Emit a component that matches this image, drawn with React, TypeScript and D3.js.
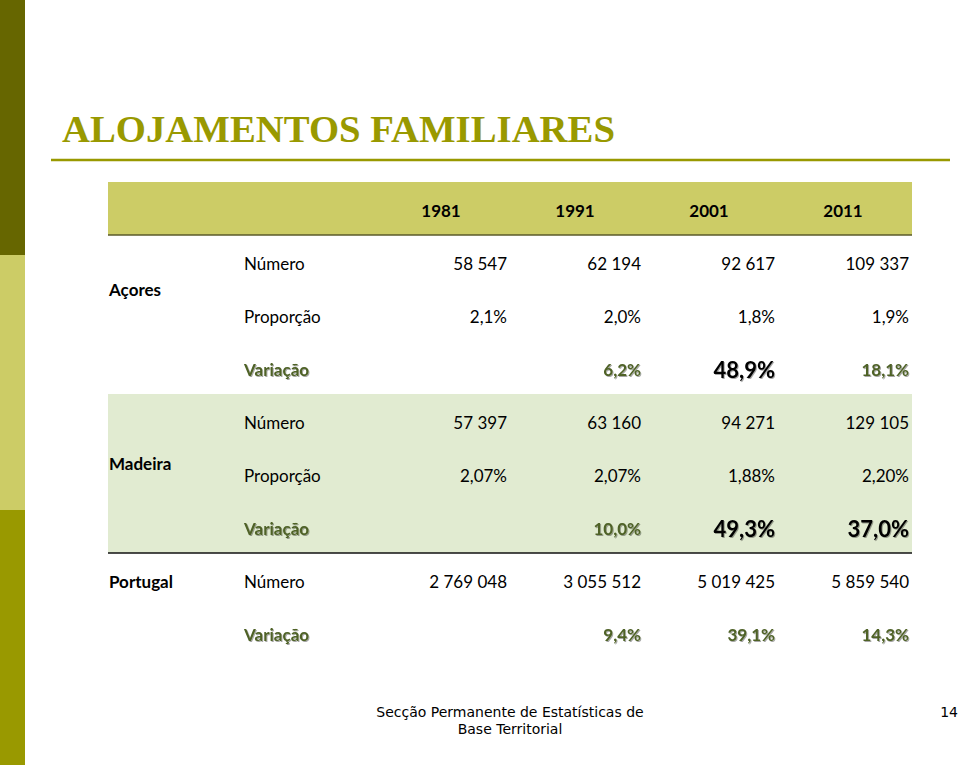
import { useEffect, useRef } from "react";
import * as d3 from "d3";

const years = ["1981", "1991", "2001", "2011"];

const acoresNumero = ["58 547", "62 194", "92 617", "109 337"];
const acoresProporcao = ["2,1%", "2,0%", "1,8%", "1,9%"];
const acoresVariacao = ["", "6,2%", "48,9%", "18,1%"];

const madeiraNumero = ["57 397", "63 160", "94 271", "129 105"];
const madeiraProporcao = ["2,07%", "2,07%", "1,88%", "2,20%"];
const madeiraVariacao = ["", "10,0%", "49,3%", "37,0%"];

const portugalNumero = ["2 769 048", "3 055 512", "5 019 425", "5 859 540"];
const portugalVariacao = ["", "9,4%", "39,1%", "14,3%"];

// values that the slide shows larger and in black
const highlighted = ["48,9%", "49,3%", "37,0%"];

const rows = [
  { region: "Açores", label: "Número", values: acoresNumero, kind: "plain" },
  { region: "Açores", label: "Proporção", values: acoresProporcao, kind: "plain" },
  { region: "Açores", label: "Variação", values: acoresVariacao, kind: "var" },
  { region: "Madeira", label: "Número", values: madeiraNumero, kind: "plain" },
  { region: "Madeira", label: "Proporção", values: madeiraProporcao, kind: "plain" },
  { region: "Madeira", label: "Variação", values: madeiraVariacao, kind: "var" },
  { region: "Portugal", label: "Número", values: portugalNumero, kind: "plain" },
  { region: "Portugal", label: "Variação", values: portugalVariacao, kind: "var" },
];

function App() {
  const svgRef = useRef<SVGSVGElement>(null);

  useEffect(() => {
    const width = 960;
    const height = 765;
    const font = "Lato, 'Open Sans', sans-serif";

    const svg = d3.select(svgRef.current);
    svg.selectAll("*").remove();
    svg.attr("width", width).attr("height", height).attr("viewBox", `0 0 ${width} ${height}`);

    // shadow for the "Variação" texts
    const defs = svg.append("defs");
    const f = defs.append("filter").attr("id", "shadow").attr("x", "-10%").attr("y", "-20%").attr("width", "130%").attr("height", "150%");
    f.append("feDropShadow").attr("dx", 1).attr("dy", 1).attr("stdDeviation", 0.6).attr("flood-color", "#000").attr("flood-opacity", 0.35);

    svg.append("rect").attr("width", width).attr("height", height).attr("fill", "#fff");

    // left decorative bar
    const bars = [
      { y0: 0, y1: 255, c: "#666600" },
      { y0: 255, y1: 510, c: "#cccc66" },
      { y0: 510, y1: 765, c: "#999900" },
    ];
    svg.selectAll(".side").data(bars).join("rect")
      .attr("x", 0).attr("y", (d) => d.y0).attr("width", 25).attr("height", (d) => d.y1 - d.y0)
      .attr("fill", (d) => d.c);

    // title
    svg.append("text")
      .attr("x", 62).attr("y", 142)
      .attr("font-family", "'Liberation Serif', 'DejaVu Serif', serif")
      .attr("font-size", 38)
      .attr("font-weight", 700)
      .attr("textLength", 553)
      .attr("lengthAdjust", "spacingAndGlyphs")
      .attr("fill", "#999900")
      .text("ALOJAMENTOS FAMILIARES");
    svg.append("line").attr("x1", 51).attr("x2", 950).attr("y1", 160).attr("y2", 160)
      .attr("stroke", "#999900").attr("stroke-width", 2.5);

    const left = 108;
    const right = 912;

    const x = d3.scaleBand().domain(years).range([374, 910]);
    const y = d3.scalePoint<number>().domain(d3.range(rows.length)).range([263, 263 + 53 * (rows.length - 1)]);

    // header band
    svg.append("rect").attr("x", left).attr("y", 182).attr("width", right - left).attr("height", 53).attr("fill", "#cccc66");
    svg.append("line").attr("x1", left).attr("x2", right).attr("y1", 235).attr("y2", 235).attr("stroke", "#5a5a2a").attr("stroke-width", 1.5);
    svg.selectAll(".yr").data(years).join("text")
      .attr("x", (d) => (x(d) as number) + x.bandwidth() / 2)
      .attr("y", 210)
      .attr("text-anchor", "middle").attr("dominant-baseline", "central")
      .attr("font-family", font).attr("font-weight", 700).attr("font-size", 17).attr("fill", "#000")
      .text((d) => d);

    // Madeira band
    const madRows = rows.map((r, i) => (r.region === "Madeira" ? i : -1)).filter((i) => i >= 0);
    const bandTop = (y(madRows[0]) as number) - 28;
    const bandBot = (y(madRows[madRows.length - 1]) as number) + 25;
    svg.append("rect").attr("x", left).attr("y", bandTop).attr("width", right - left).attr("height", bandBot - bandTop).attr("fill", "#e1ebd1");
    svg.append("line").attr("x1", left).attr("x2", right).attr("y1", bandBot).attr("y2", bandBot).attr("stroke", "#111").attr("stroke-width", 1.5);

    // region labels centred on their rows
    const regions = Array.from(d3.group(rows.map((r, i) => ({ ...r, i })), (d) => d.region));
    svg.selectAll(".reg").data(regions).join("text")
      .attr("x", 109)
      .attr("y", ([name, rs]) => {
        if (name === "Portugal") return y(rs[0].i) as number;
        return d3.mean(rs.slice(0, 2), (r) => y(r.i) as number) as number + (name === "Madeira" ? 15 : 0);
      })
      .attr("dominant-baseline", "central")
      .attr("font-family", font).attr("font-weight", 700).attr("font-size", 17).attr("fill", "#000")
      .text(([name]) => name);

    const rowG = svg.selectAll(".row").data(rows).join("g")
      .attr("transform", (_, i) => `translate(0, ${y(i)})`);

    rowG.append("text")
      .attr("x", 244)
      .attr("dominant-baseline", "central")
      .attr("font-family", font)
      .attr("font-size", 17)
      .attr("font-weight", (d) => (d.kind === "var" ? 700 : 400))
      .attr("fill", (d) => (d.kind === "var" ? "#4f6228" : "#000"))
      .attr("filter", (d) => (d.kind === "var" ? "url(#shadow)" : null))
      .text((d) => d.label);

    rowG.each(function (row) {
      d3.select(this).selectAll("text.val").data(row.values.map((v, j) => ({ v, yr: years[j] })))
        .join("text").attr("class", "val")
        .attr("x", (d) => (x(d.yr) as number) + x.bandwidth() - 1)
        .attr("text-anchor", "end")
        .attr("dominant-baseline", "central")
        .attr("font-family", font)
        .attr("font-size", (d) => (highlighted.includes(d.v) && row.kind === "var" ? 22 : 17))
        .attr("font-weight", row.kind === "var" ? 700 : 400)
        .attr("fill", (d) => (row.kind !== "var" ? "#000" : highlighted.includes(d.v) ? "#000" : "#4f6228"))
        .attr("filter", row.kind === "var" ? "url(#shadow)" : null)
        .text((d) => d.v);
    });

    // footer
    const foot = "'DejaVu Sans', Verdana, sans-serif";
    svg.append("text").attr("x", 510).attr("y", 717).attr("text-anchor", "middle")
      .attr("font-family", foot).attr("font-size", 14).attr("fill", "#000")
      .text("Secção Permanente de Estatísticas de");
    svg.append("text").attr("x", 510).attr("y", 734).attr("text-anchor", "middle")
      .attr("font-family", foot).attr("font-size", 14).attr("fill", "#000")
      .text("Base Territorial");
    svg.append("text").attr("x", 958).attr("y", 717).attr("text-anchor", "end")
      .attr("font-family", foot).attr("font-size", 14).attr("fill", "#000")
      .text("14");
  }, []);

  return (
    <div style={{ position: "absolute", left: 0, top: 0 }}>
      <svg ref={svgRef} style={{ display: "block" }}></svg>
    </div>
  );
}

export default App;
